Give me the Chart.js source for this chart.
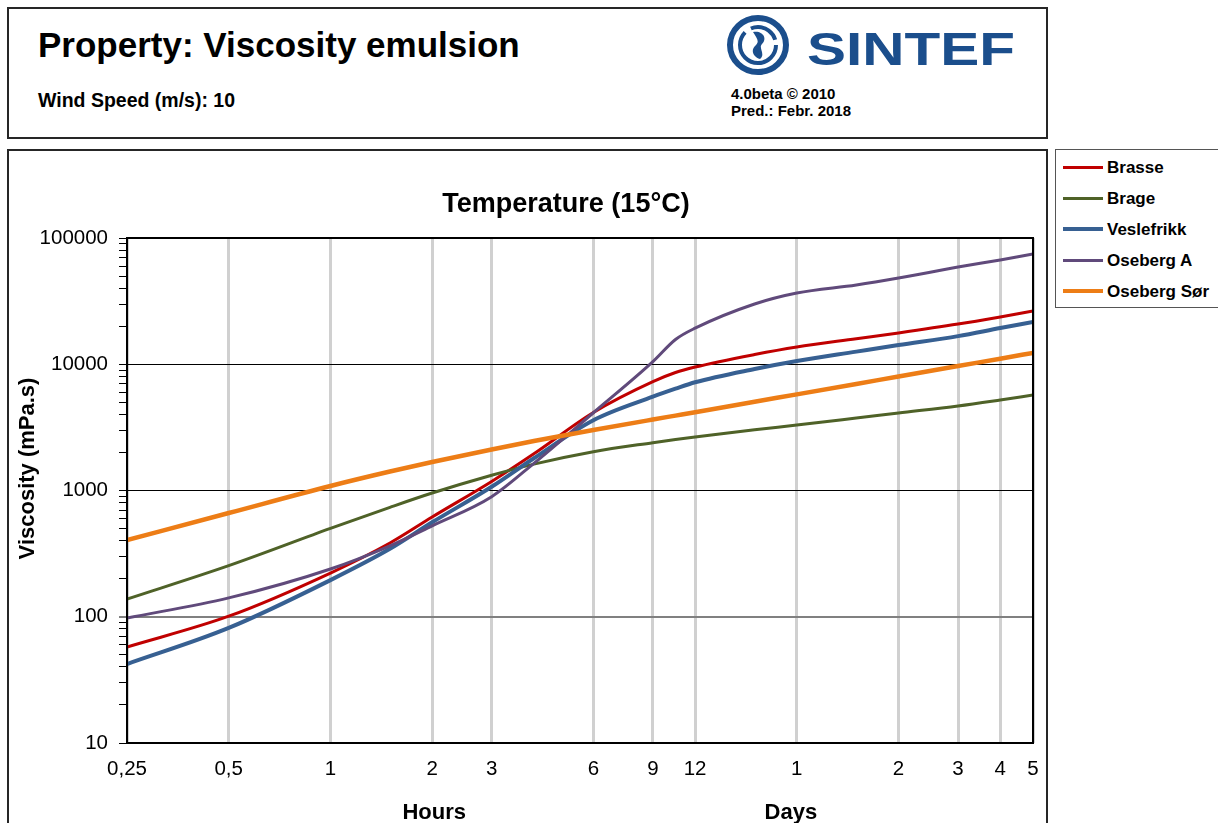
<!DOCTYPE html>
<html>
<head>
<meta charset="utf-8">
<script src="https://cdn.jsdelivr.net/npm/chart.js@4.4.1/dist/chart.umd.min.js"></script>
<style>
    body { margin: 0; background: #fff; width: 1218px; height: 823px; overflow: hidden; position: relative;
           font-family: Arial, "Liberation Sans", sans-serif; color: #000; }
    .box { position: absolute; box-sizing: border-box; border: 2px solid #262626; }
    #header { left: 7px; top: 7px; width: 1041px; height: 132px; }
    #chartBox { left: 7px; top: 149px; width: 1041px; height: 720px; }
    #legend { left: 1055px; top: 149px; width: 175px; height: 159px; border: 1px solid #555; }
    .txt { position: absolute; white-space: nowrap; line-height: 1; font-weight: bold; }
    #chart { position: absolute; left: 9px; top: 151px; }
    .legRow { position: absolute; left: 1063px; height: 20px; }
    .legRow span.line { position: absolute; left: 0; width: 40px; }
    .legRow span.lab { position: absolute; left: 44px; top: 2px; font-weight: bold; font-size: 17px; line-height: 1; white-space: nowrap; }
</style>
</head>
<body>

<div class="box" id="header"></div>
<div class="txt" style="left:38px; top:27px; font-size:35px;">Property: Viscosity emulsion</div>
<div class="txt" style="left:38px; top:91px; font-size:19.5px;">Wind Speed (m/s): 10</div>
<div class="txt" style="left:731px; top:86px; font-size:15px;">4.0beta © 2010</div>
<div class="txt" style="left:731px; top:103px; font-size:15px;">Pred.: Febr. 2018</div>

<svg width="300" height="72" viewBox="0 0 300 72" style="position:absolute; left:722px; top:12px;">
    <g fill="none" stroke="#1B4E8C">
        <ellipse cx="36" cy="33" rx="28" ry="27" stroke-width="6"/>
        <circle cx="36" cy="33" r="18" stroke-width="4" stroke-dasharray="70 7 30 6"/>
    </g>
    <path d="M31 20 C40 18 46 26 40 32 C36 36 44 42 38 47 C31 45 28 38 34 33 C38 29 34 25 31 20 Z" fill="#1B4E8C"/>
    <text x="85" y="53" font-family="Arial, 'Liberation Sans', sans-serif" font-weight="bold" font-size="47"
          fill="#1B4E8C" textLength="208" lengthAdjust="spacingAndGlyphs">SINTEF</text>
</svg>

<div class="box" id="chartBox"></div>
<canvas id="chart" width="1036" height="672"></canvas>

<div class="box" id="legend"></div>
<div id="legendRows"></div>

<script>
// time in hours after release
const hours = [0.25, 0.5, 1, 1.5, 2, 3, 4, 6, 9, 10.5, 12, 18, 24, 36, 48, 72, 96, 120];

// emulsion viscosity (mPa.s) per oil
const brasse     = [57.6, 101, 222, 384, 617, 1180, 1954, 4150, 7280, 8600, 9500, 11940, 13700, 15920, 17700, 20800, 23700, 26400];
const brage      = [138, 254, 501, 736, 955, 1321, 1618, 2029, 2392, 2535, 2650, 3027, 3300, 3750, 4110, 4670, 5210, 5700];
const veslefrikk = [42.2, 81.5, 195, 345, 560, 1070, 1800, 3600, 5530, 6400, 7200, 9170, 10610, 12590, 14200, 16700, 19350, 21600];
const osebergA   = [97.7, 141, 239, 365, 525, 893, 1642, 4130, 10480, 15700, 19300, 30000, 36650, 42450, 48200, 58900, 67000, 74600];
const osebergSor = [405, 663, 1086, 1413, 1681, 2112, 2466, 3014, 3650, 3920, 4170, 5050, 5770, 6980, 8000, 9680, 11070, 12300];

const seriesNames  = ['Brasse', 'Brage', 'Veslefrikk', 'Oseberg A', 'Oseberg Sør'];
const seriesValues = [brasse, brage, veslefrikk, osebergA, osebergSor];
const seriesColors = ['#C00000', '#4F6228', '#376092', '#604A7B', '#ED7D16'];
const seriesWidths = [3, 3, 4, 3, 4.5];

// x axis: hours up to 12, then days
const xTickValues = [0.25, 0.5, 1, 2, 3, 6, 9, 12, 24, 48, 72, 96, 120];
const xTickLabels = ['0,25', '0,5', '1', '2', '3', '6', '9', '12', '1', '2', '3', '4', '5'];
const yTickValues = [10, 100, 1000, 10000, 100000];

const chartTitle = 'Temperature (15°C)';
const yTitle = 'Viscosity (mPa.s)';
const FONT = 'Arial, "Liberation Sans", sans-serif';

// minor ticks 2..9 inside every decade
const yAllTicks = [];
yTickValues.forEach((d, i) => {
    yAllTicks.push(d);
    if (i < yTickValues.length - 1) {
        for (let k = 2; k <= 9; k++) yAllTicks.push(d * k);
    }
});
function isDecade(v) {
    const l = Math.log10(v);
    return Math.abs(l - Math.round(l)) < 1e-9;
}

// legend
const legendRows = document.getElementById('legendRows');
seriesNames.forEach((name, i) => {
    const row = document.createElement('div');
    row.className = 'legRow';
    row.style.top = (157 + i * 31) + 'px';
    row.innerHTML = `<span class="line" style="top:${10 - seriesWidths[i] / 2}px; height:${seriesWidths[i]}px; background:${seriesColors[i]}"></span>` +
                    `<span class="lab">${name}</span>`;
    legendRows.appendChild(row);
});

const decorations = {
    id: 'decorations',
    afterDraw(chart) {
        const { ctx, chartArea: a, scales: { x } } = chart;
        ctx.save();
        ctx.strokeStyle = '#000';
        ctx.lineWidth = 2;
        ctx.strokeRect(a.left, a.top, a.right - a.left, a.bottom - a.top);

        ctx.fillStyle = '#000';
        ctx.textAlign = 'center';
        ctx.textBaseline = 'middle';
        ctx.font = 'bold 27px ' + FONT;
        ctx.fillText(chartTitle, (a.left + a.right) / 2 - 14, a.top - 33);

        ctx.font = 'bold 22px ' + FONT;
        ctx.fillText('Hours', x.getPixelForValue(2) + 2, a.bottom + 70);
        ctx.fillText('Days', x.getPixelForValue(24) - 6, a.bottom + 70);

        ctx.translate(19, (a.top + a.bottom) / 2 - 22);
        ctx.rotate(-Math.PI / 2);
        ctx.fillText(yTitle, 0, 0);
        ctx.restore();
    }
};

const ctx = document.getElementById('chart').getContext('2d');
new Chart(ctx, {
    type: 'line',
    data: {
        datasets: seriesNames.map((name, i) => ({
            label: name,
            data: hours.map((h, j) => ({ x: h, y: seriesValues[i][j] })),
            borderColor: seriesColors[i],
            backgroundColor: seriesColors[i],
            borderWidth: seriesWidths[i],
            pointRadius: 0,
            cubicInterpolationMode: 'monotone',
            fill: false,
            order: seriesNames.length - 1 - i
        }))
    },
    options: {
        responsive: false,
        animation: false,
        devicePixelRatio: 1,
        layout: { padding: { left: 0, top: 87, right: 12, bottom: 40 } },
        plugins: {
            legend: { display: false },
            title: { display: false },
            tooltip: { enabled: false }
        },
        scales: {
            x: {
                type: 'logarithmic',
                min: 0.25,
                max: 120,
                z: -1,
                afterBuildTicks: (scale) => {
                    scale.ticks = xTickValues.map(v => ({ value: v }));
                },
                afterFit: (scale) => {
                    scale.height = 40;
                    // edge labels may overhang; keep the plot box fixed
                    scale.paddingLeft = 0;
                    scale.paddingRight = 0;
                },
                ticks: {
                    autoSkip: false,
                    maxRotation: 0,
                    padding: 14,
                    color: '#000',
                    font: { family: FONT, size: 20.5 },
                    callback: (value, index) => xTickLabels[index]
                },
                grid: {
                    color: '#D0D0D0',
                    lineWidth: 3,
                    drawTicks: false
                },
                border: { display: false }
            },
            y: {
                type: 'logarithmic',
                min: 10,
                max: 100000,
                afterBuildTicks: (scale) => {
                    scale.ticks = yAllTicks.map(v => ({ value: v }));
                },
                afterFit: (scale) => {
                    scale.width = 118;
                    scale.paddingTop = 0;
                    scale.paddingBottom = 0;
                },
                ticks: {
                    autoSkip: false,
                    padding: 11,
                    color: '#000',
                    font: { family: FONT, size: 20.5 },
                    callback: (value) => isDecade(value) ? String(value) : ''
                },
                grid: {
                    color: (c) => {
                        const v = c.tick.value;
                        if (!isDecade(v)) return 'rgba(0,0,0,0)';
                        return v === 100 ? '#808080' : '#000';
                    },
                    lineWidth: (c) => c.tick.value === 100 ? 2 : 1,
                    tickColor: '#000',
                    tickWidth: 1,
                    tickLength: 8
                },
                border: { display: false }
            }
        }
    },
    plugins: [decorations]
});
</script>
</body>
</html>
